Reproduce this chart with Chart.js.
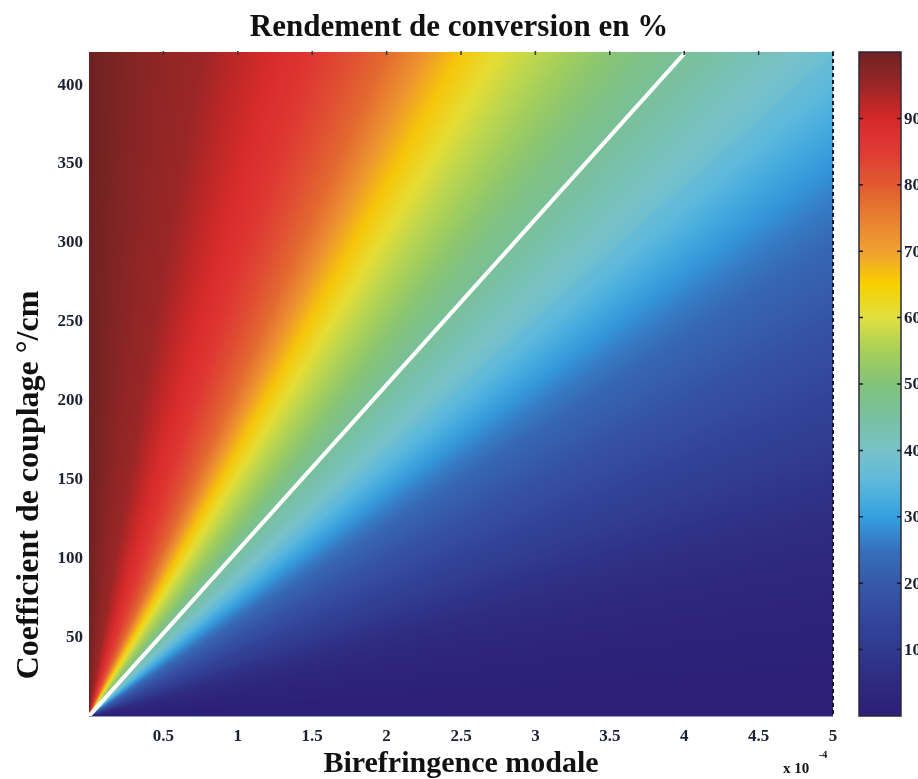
<!DOCTYPE html>
<html>
<head>
<meta charset="utf-8">
<script src="https://cdn.jsdelivr.net/npm/chart.js@4"></script>
<style>
  html, body { margin: 0; padding: 0; background: #fff; }
  #chart { display: block; }
</style>
</head>
<body>
<canvas id="chart" width="918" height="779"></canvas>
<script>
// Axis ranges and ticks
const xMax = 5;
const yMax = 421;
const xTicks = [0.5, 1, 1.5, 2, 2.5, 3, 3.5, 4, 4.5, 5];
const yTicks = [50, 100, 150, 200, 250, 300, 350, 400];
const cbTicks = [10, 20, 30, 40, 50, 60, 70, 80, 90];

// Efficiency (%) read along the top edge of the map (y = yMax)
const topEdgeX = [0, 0.25, 0.5, 0.75, 1, 1.25, 1.5, 1.75, 2, 2.25, 2.5, 2.75, 3, 3.25, 3.5, 3.75, 4, 4.25, 4.5, 4.75, 5];
const topEdgeEff = [100, 98, 96, 95, 92, 89, 86, 82, 78, 72, 66, 61, 57, 54, 51, 48, 46, 44, 42, 40, 38];

// Efficiency (%) read along the right edge of the map (x = xMax)
const rightEdgeY = [420, 400, 375, 350, 325, 300, 275, 250, 225, 200, 175, 150, 125, 100, 75, 50, 25, 0];
const rightEdgeEff = [37, 35, 32, 29, 26, 23, 21, 18, 16, 13, 11, 8, 6, 4, 2.5, 1.5, 0.5, 0];

// White 50% line
const lineX = [0, 4.0];
const lineY = [0, 420];

// Colour scale (colorbar levels)
const cbLevels = [0, 5, 10, 15, 20, 25, 30, 35, 40, 45, 50, 55, 60, 65, 70, 75, 80, 85, 90, 95, 100];
const cbColors = ['#2d1e76', '#2e2a80', '#303a8f', '#33489b', '#3658a8', '#3670bc', '#34a0e0', '#5cb8dc',
  '#78c2c8', '#78c0a0', '#82c278', '#a8d058', '#e0e040', '#f8d000', '#f0a030', '#e88030',
  '#e05a30', '#e03a35', '#d62828', '#9a2626', '#6e2222'];

const FONT = '"Liberation Serif", "Times New Roman", serif';
const TEXT = '#1c2030';

function hexToRgb(h) {
  return [parseInt(h.slice(1, 3), 16), parseInt(h.slice(3, 5), 16), parseInt(h.slice(5, 7), 16)];
}

// map a value to the colorbar colour
function colorFor(v) {
  if (v <= cbLevels[0]) return cbColors[0];
  for (let i = 1; i < cbLevels.length; i++) {
    if (v <= cbLevels[i]) {
      const t = (v - cbLevels[i - 1]) / (cbLevels[i] - cbLevels[i - 1]);
      const a = hexToRgb(cbColors[i - 1]), b = hexToRgb(cbColors[i]);
      const c = a.map((ch, k) => Math.round(ch + (b[k] - ch) * t));
      return `rgb(${c[0]},${c[1]},${c[2]})`;
    }
  }
  return cbColors[cbColors.length - 1];
}

// Field + frame plugin
const fieldPlugin = {
  id: 'field',
  beforeDatasetsDraw(chart) {
    const { ctx, chartArea, scales } = chart;
    const ox = scales.x.getPixelForValue(0);
    const oy = scales.y.getPixelForValue(0);
    const grad = ctx.createConicGradient(-Math.PI / 2, ox, oy);

    const pts = [];
    topEdgeX.forEach((x, i) => pts.push([x, yMax, topEdgeEff[i]]));
    rightEdgeY.forEach((y, i) => pts.push([xMax, y, rightEdgeEff[i]]));

    let last = 0;
    pts.forEach(([x, y, v]) => {
      const px = scales.x.getPixelForValue(x);
      const py = scales.y.getPixelForValue(y);
      let off = (Math.atan2(py - oy, px - ox) + Math.PI / 2) / (2 * Math.PI);
      off = Math.min(1, Math.max(last, off));
      last = off;
      grad.addColorStop(off, colorFor(v));
    });

    ctx.save();
    ctx.fillStyle = grad;
    ctx.fillRect(chartArea.left, chartArea.top, chartArea.right - chartArea.left, chartArea.bottom - chartArea.top);

    // faint bottom edge
    ctx.strokeStyle = '#8e9ad0';
    ctx.lineWidth = 1;
    ctx.beginPath();
    ctx.moveTo(chartArea.left, chartArea.bottom + 0.5);
    ctx.lineTo(chartArea.right, chartArea.bottom + 0.5);
    ctx.stroke();
    ctx.restore();
  },
  afterDatasetsDraw(chart) {
    const { ctx, chartArea, scales } = chart;
    ctx.save();
    // small tick marks on top edge
    ctx.strokeStyle = '#333';
    ctx.lineWidth = 1.5;
    xTicks.forEach(v => {
      const px = scales.x.getPixelForValue(v);
      ctx.beginPath();
      ctx.moveTo(px, chartArea.top - 1);
      ctx.lineTo(px, chartArea.top + 3);
      ctx.stroke();
    });
    // dashed right edge
    ctx.strokeStyle = '#15151f';
    ctx.lineWidth = 2;
    ctx.setLineDash([4, 3]);
    ctx.beginPath();
    ctx.moveTo(chartArea.right, chartArea.top);
    ctx.lineTo(chartArea.right, chartArea.bottom);
    ctx.stroke();
    ctx.setLineDash([]);

    // colorbar
    const cb = scales.cb;
    const top = cb.getPixelForValue(100);
    const bottom = cb.getPixelForValue(0);
    const left = 859, right = 901;
    const g = ctx.createLinearGradient(0, bottom, 0, top);
    cbLevels.forEach((lv, i) => g.addColorStop(lv / 100, cbColors[i]));
    ctx.fillStyle = g;
    ctx.fillRect(left, top, right - left, bottom - top);
    ctx.strokeStyle = '#2a2a3a';
    ctx.lineWidth = 1.5;
    ctx.strokeRect(left, top, right - left, bottom - top);
    ctx.strokeStyle = '#1a1a2a';
    ctx.fillStyle = TEXT;
    ctx.font = 'bold 17px ' + FONT;
    ctx.textAlign = 'left';
    ctx.textBaseline = 'middle';
    cbTicks.forEach(v => {
      const py = cb.getPixelForValue(v);
      ctx.beginPath();
      ctx.moveTo(left, py); ctx.lineTo(left + 4, py);
      ctx.moveTo(right - 4, py); ctx.lineTo(right, py);
      ctx.stroke();
      ctx.fillText(String(v), right + 3, py + 1);
    });

    // y axis title (drawn by hand, offset like the original)
    ctx.fillStyle = '#111';
    ctx.font = 'bold 32px ' + FONT;
    ctx.textAlign = 'center';
    ctx.textBaseline = 'middle';
    ctx.translate(30, 485);
    ctx.rotate(-Math.PI / 2);
    ctx.fillText('Coefficient de couplage °/cm', 0, 0);
    ctx.setTransform(1, 0, 0, 1, 0, 0);

    // x multiplier
    ctx.font = 'bold 15px ' + FONT;
    ctx.textAlign = 'left';
    ctx.fillText('x 10', 783, 769);
    ctx.font = 'bold 10px ' + FONT;
    ctx.fillText('-4', 819, 755);
    ctx.restore();
  }
};

const chart = new Chart(document.getElementById('chart'), {
  type: 'scatter',
  data: {
    datasets: [{
      data: lineX.map((x, i) => ({ x: x, y: lineY[i] })),
      showLine: true,
      borderColor: '#ffffff',
      borderWidth: 4,
      pointRadius: 0,
      yAxisID: 'y'
    }]
  },
  options: {
    responsive: false,
    animation: false,
    layout: { padding: 0 },
    plugins: {
      legend: { display: false },
      tooltip: { enabled: false },
      title: {
        display: true,
        text: 'Rendement de conversion en %',
        color: '#111',
        font: { family: FONT, size: 31, weight: 'bold', lineHeight: 1 },
        padding: { top: 12, bottom: 9 }
      }
    },
    scales: {
      x: {
        type: 'linear',
        min: 0,
        max: xMax,
        grid: { display: false, drawTicks: false },
        border: { display: false },
        ticks: {
          autoSkip: false,
          maxRotation: 0,
          padding: 10,
          color: TEXT,
          font: { family: FONT, size: 17, weight: 'bold' },
          callback: v => String(v)
        },
        afterBuildTicks: s => { s.ticks = xTicks.map(v => ({ value: v })); },
        afterFit: s => { s.height = 63; },
        title: {
          display: true,
          text: 'Birefringence modale',
          color: '#111',
          font: { family: FONT, size: 30, weight: 'bold', lineHeight: 1 },
          padding: { top: 0, bottom: 0 }
        }
      },
      y: {
        type: 'linear',
        position: 'left',
        min: 0,
        max: yMax,
        grid: { display: false, drawTicks: false },
        border: { display: false },
        ticks: {
          autoSkip: false,
          padding: 6,
          color: TEXT,
          font: { family: FONT, size: 17, weight: 'bold' }
        },
        afterBuildTicks: s => { s.ticks = yTicks.map(v => ({ value: v })); },
        afterFit: s => { s.width = 89; }
      },
      cb: {
        type: 'linear',
        position: 'right',
        min: 0,
        max: 100,
        grid: { display: false, drawTicks: false },
        border: { display: false },
        ticks: { display: false },
        afterFit: s => { s.width = 85; }
      }
    }
  },
  plugins: [fieldPlugin]
});
</script>
</body>
</html>
